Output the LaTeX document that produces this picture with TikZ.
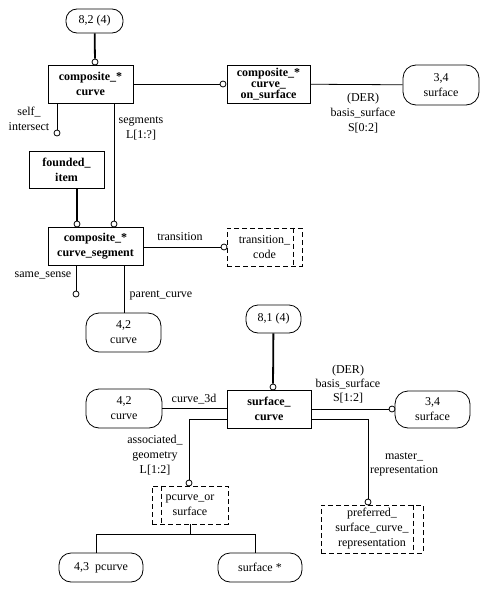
\documentclass[tikz,border=0pt]{standalone}
\usepackage{fontspec}
\setmainfont{Liberation Serif}
\begin{document}
\begin{tikzpicture}[x=1pt,y=-1pt,
  every node/.style={font=\fontsize{12}{15}\selectfont},
  ent/.style={draw, line width=0.8pt, font=\fontsize{12}{15}\selectfont\bfseries, align=center, inner sep=0pt},
  rbox/.style={draw, line width=0.8pt, rounded corners=11pt, align=center, inner sep=0pt},
  dsh/.style={dash pattern=on 5pt off 3pt, line width=0.8pt},
  dbox/.style={draw, dsh, align=center, inner sep=0pt},
  oc/.style={circle, draw, line width=0.8pt, fill=white, inner sep=0pt, minimum size=6pt},
  lbl/.style={align=center, inner sep=0pt},
  conn/.style={line width=0.8pt},
  tconn/.style={line width=1.8pt}]
\useasboundingbox (0,0) rectangle (484,589);

% top part
\node[rbox, minimum width=57pt, minimum height=24pt] (n82) at (94.5,21) {8,2 (4)};
\node[ent, minimum width=85pt, minimum height=38pt] (cc) at (90.5,84) {composite\_*\\curve};
\node[ent, minimum width=83pt, minimum height=38pt, font=\fontsize{12}{11}\selectfont\bfseries] (ccos) at (268.5,84) {composite\_*\\curve\_\\on\_surface};
\node[rbox, rounded corners=13pt, minimum width=76pt, minimum height=40pt] (s34a) at (441,85) {3,4\\surface};
\node[ent, minimum width=75pt, minimum height=37pt] (fi) at (66.5,169.5) {founded\_\\item};
\node[ent, minimum width=95pt, minimum height=38pt] (ccs) at (95.5,246) {composite\_*\\curve\_segment};
\node[dbox, minimum width=75pt, minimum height=38pt] (tc) at (264.5,247) {transition\_\\code};
\draw[dsh] ([xshift=-9pt]tc.north east) -- ([xshift=-9pt]tc.south east);
\node[rbox, rounded corners=13pt, minimum width=75pt, minimum height=39pt] (c42a) at (123.5,332.5) {4,2\\curve};

\node[oc] (c1) at (95,62) {};
\node[oc] (c2) at (223,84) {};
\node[oc] (c3) at (57,133) {};
\node[oc] (c4) at (114,224) {};
\node[oc] (c5) at (77,224) {};
\node[oc] (c6) at (224,247) {};
\node[oc] (c7) at (76,294) {};

\draw[tconn] (n82) -- (c1);
\draw[conn] (cc) -- (c2);
\draw[conn] (ccos) -- (s34a);
\draw[conn] (cc.south -| c3) -- (c3);
\draw[conn] (cc.south -| c4) -- (c4);
\draw[tconn] (fi.south -| c5) -- (c5);
\draw[conn] (ccs.east |- c6) -- (c6);
\draw[conn] (ccs.south -| c7) -- (c7);
\coordinate (pcx) at (124,265);
\draw[conn] (ccs.south -| pcx) -- (c42a.north -| pcx);

\node[lbl] (l1) at (363,113) {(DER)\\basis\_surface\\S[0:2]};
\node[lbl] (l2) at (29,119) {self\_\\intersect};
\node[lbl] (l3) at (141,128) {segments\\L[1:?]};
\node[lbl] (l4) at (180,237) {transition};
\node[lbl] (l5) at (43,275) {same\_sense};
\node[lbl] (l6) at (161,295) {parent\_curve};

% bottom part
\node[rbox, rounded corners=12pt, minimum width=55pt, minimum height=28pt] (n81) at (273.5,319) {8,1 (4)};
\node[ent, minimum width=84pt, minimum height=38pt] (sc) at (269,409) {surface\_\\curve};
\node[rbox, rounded corners=13pt, minimum width=75pt, minimum height=37pt] (s34b) at (432.5,409.5) {3,4\\surface};
\node[rbox, rounded corners=13pt, minimum width=76pt, minimum height=39pt] (c42b) at (124,408.5) {4,2\\curve};
\node[dbox, minimum width=76pt, minimum height=38pt] (pos) at (190,505) {pcurve\_or\\surface};
\draw[dsh] ([xshift=10pt]pos.north west) -- ([xshift=10pt]pos.south west);
\node[dbox, minimum width=102pt, minimum height=48pt] (psc) at (372,529) {preferred\_\\surface\_curve\_\\representation};
\draw[dsh] ([xshift=-10pt]psc.north east) -- ([xshift=-10pt]psc.south east);
\node[rbox, rounded corners=12pt, minimum width=84pt, minimum height=29pt] (pc) at (101,567.5) {4,3\ \ pcurve};
\node[rbox, rounded corners=12pt, minimum width=84pt, minimum height=29pt] (sst) at (260,567.5) {surface *};

\node[oc] (c8) at (273,387) {};
\node[oc] (c9) at (392,409) {};
\node[oc] (c10) at (189,483) {};
\node[oc] (c11) at (368,502) {};

\draw[tconn] (n81) -- (c8);
\draw[conn] (sc.east |- c9) -- (c9);
\draw[conn] (c42b) -- (sc.west |- c42b);
\coordinate (ay) at (0,419);
\draw[conn] (sc.west |- ay) -| (c10);
\draw[conn] (sc.east |- ay) -| (c11);
\coordinate (j) at (190,534);
\coordinate (jl) at (96,534);
\coordinate (jr) at (255,534);
\draw[conn] (pos.south -| j) -- (j);
\draw[conn] (pc.north -| jl) -- (jl) -- (jr) -- (sst.north -| jr);

\node[lbl, font=\fontsize{12}{14}\selectfont] (l7) at (348,384) {(DER)\\basis\_surface\\S[1:2]};
\node[lbl] (l8) at (194,399) {curve\_3d};
\node[lbl] (l9) at (155,455) {associated\_\\geometry\\L[1:2]};
\node[lbl, font=\fontsize{12}{14}\selectfont] (l10) at (404,464) {master\_\\representation};
\end{tikzpicture}
\end{document}
